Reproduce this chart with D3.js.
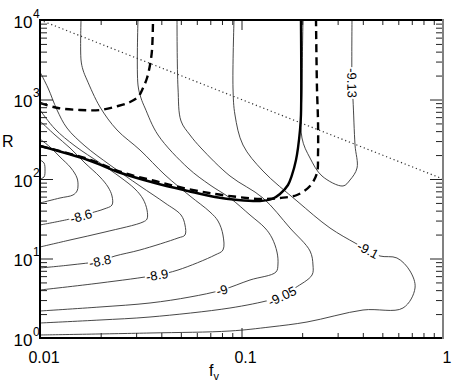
<!DOCTYPE html>
<html>
<head>
<meta charset="utf-8">
<script src="https://cdn.jsdelivr.net/npm/d3@7"></script>
<style>
	body { margin: 0; background: #fff; }
	svg { display: block; font-family: "Liberation Sans", Arial, sans-serif; }
</style>
</head>
<body>
<svg id="chart" width="459" height="382"></svg>
<script>
	/* contour lines, each point is [f_v, R] */
	var xTickLabels = [0.01, 0.1, 1];
	var yTickExponents = [0, 1, 2, 3, 4];

	var c_840 = [[0.01,173.4],[0.01047,159.0],[0.01059,129.8],[0.01047,106.0],[0.01,100]];
	var c_850 = [[0.01,318.6],[0.01121,252.7],[0.01257,189.1],[0.01425,137.5],[0.01527,102.9],[0.01544,81.66],[0.01527,70.65],[0.01458,62.92],[0.01257,57.68],[0.01,49.9]];
	var c_860 = [[0.01,536.5],[0.01187,357.7],[0.01409,245.5],[0.01672,159.0],[0.01985,106.0],[0.02176,79.33],[0.02277,61.13],[0.02277,47.1],[0.02078,41.95],[0.01791,37.36],[0.01598,34.25],[0.01409,31.40],[0.01,26.39]];
	var c_870 = [[0.01,737.9],[0.01187,425.6],[0.01492,260.1],[0.01985,159.0],[0.02495,106.0],[0.02961,74.86],[0.03245,56.03],[0.03397,40.75],[0.03397,31.40],[0.03245,28.78],[0.02102,21.54],[0.01409,17.09],[0.01,13.96]];
	var c_880 = [[0.01,2218],[0.01096,1395],[0.01215,737.9],[0.01361,438.0],[0.01672,260.1],[0.02225,150.0],[0.03135,81.66],[0.04174,49.9],[0.05009,35.26],[0.05243,26.39],[0.05243,19.75],[0.04841,18.11],[0.03135,12.80],[0.02357,10.75],[0.01985,9.302],[0.01409,8.284],[0.01,7.595]];
	var c_890 = [[0.01598,10000],[0.01598,3140],[0.01635,2350],[0.01711,1760],[0.01985,804.8],[0.02411,413.4],[0.03135,231.6],[0.04174,112.3],[0.05551,61.13],[0.06978,38.46],[0.07645,29.63],[0.08092,19.75],[0.08092,12.80],[0.07387,11.07],[0.04841,7.165],[0.03808,6.201],[0.01985,4.918],[0.01,4.017]];
	var c_900 = [[0.03064,10000],[0.03064,1522],[0.03171,1044],[0.0332,781.9],[0.03852,357.7],[0.05425,137.5],[0.06978,84.06],[0.08768,57.68],[0.1102,35.26],[0.1308,24.19],[0.1417,18.11],[0.15,12.07],[0.1517,8.527],[0.1483,6.763],[0.1102,5.366],[0.08,4.017],[0.05551,3.279],[0.03515,2.756],[0.01985,2.455],[0.01,2.186]];
	var c_905 = [[0.04786,10000],[0.04841,1395],[0.05009,536.5],[0.05551,357.7],[0.06295,245.5],[0.08768,109.1],[0.1278,57.68],[0.174,24.19],[0.2188,12.43],[0.2263,8.284],[0.2239,6.201],[0.1843,4.256],[0.1589,3.375],[0.1385,3.006],[0.08768,2.384],[0.03515,1.837],[0.01985,1.684],[0.01,1.544]];
	var c_910 = [[0.09179,10000],[0.09074,1395],[0.09283,638.3],[0.1017,267.7],[0.1278,126.1],[0.1885,52.88],[0.2749,24.19],[0.3659,15.67],[0.4245,12.80],[0.4868,10.75],[0.5909,10.15],[0.686,6.961],[0.7264,4.256],[0.6331,2.384],[0.4009,2.25],[0.2114,1.589],[0.1385,1.375],[0.08768,1.225],[0.03515,1.156],[0.01,1.091]];
	var c_913 = [[0.2019,10000],[0.1996,1395],[0.1996,327.9],[0.2188,183.7],[0.2509,109.1],[0.319,81.66],[0.3455,97.1],[0.3744,137.5],[0.3659,267.7],[0.3576,985.6],[0.3535,1613],[0.3535,10000]];

	var contourLevels = [-8.4, -8.5, -8.6, -8.7, -8.8, -8.9, -9, -9.05, -9.1, -9.13];
	var contourPaths = [c_840, c_850, c_860, c_870, c_880, c_890, c_900, c_905, c_910, c_913];

	// which contours carry a label, and where on the line it sits
	var labelLevels = [-8.6, -8.8, -8.9, -9, -9.05, -9.1, -9.13];
	var labelPoints = [[0.01598,34.25],[0.01985,9.302],[0.03808,6.201],[0.08,4.017],[0.1589,3.375],[0.4245,12.80],[0.3535,1613]];

	var boundSolid = [[0.01,260.1],[0.0173,173.4],[0.02523,119.0],[0.03722,89.1],[0.05425,70.65],[0.07387,59.38],[0.0961,54.43],[0.1235,52.88],[0.1417,56.03],[0.1552,64.77],[0.1701,84.06],[0.1781,112.3],[0.1864,173.4],[0.1907,245.5],[0.1951,413.4],[0.1973,638.3],[0.1973,10000]];
	var boundDashed = [[0.01,260.1],[0.0173,178.5],[0.02523,122.5],[0.03722,94.4],[0.05425,74.86],[0.07387,64.77],[0.0961,59.38],[0.1235,56.03],[0.1552,57.68],[0.1885,62.92],[0.2188,81.66],[0.2369,119.0],[0.2397,200.4],[0.2397,536.5],[0.2369,1395],[0.2343,10000]];
	var boundDashedUpper = [[0.01,903.6],[0.01228,781.9],[0.0158,737.9],[0.01985,737.9],[0.02439,828.4],[0.02797,930.2],[0.03064,1075],[0.03245,1395],[0.03397,1864],[0.03515,2716],[0.03597,4195],[0.03638,10000]];
	var dottedLine = [[0.01,10000],[1,100]];

	(function(){
	var svg = d3.select("#chart"),
		pLeft = 40, pRight = 443, pTop = 20, pBottom = 338;

	var x = d3.scaleLog().domain([0.01, 1]).range([pLeft, pRight]);
	var y = d3.scaleLog().domain([1, 10000]).range([pBottom, pTop]);

	function isDecade(d){
		var l = Math.log10(d);
		return Math.abs(l - Math.round(l)) < 1e-6;
	}

	svg.append("clipPath")
		.attr("id", "plot_clip")
		.append("rect")
			.attr("x", pLeft).attr("y", pTop)
			.attr("width", pRight-pLeft).attr("height", pBottom-pTop);

	var plot = svg.append("g").attr("clip-path", "url(#plot_clip)");

	var line = d3.line()
		.x(function(d){ return x(d[0]); })
		.y(function(d){ return y(d[1]); })
		.curve(d3.curveCatmullRom.alpha(0.5));

	plot.selectAll(".contour")
		.data(contourPaths)
		.enter()
		.append("path")
		.attr("class", "contour")
		.attr("d", line)
		.attr("fill", "none")
		.attr("stroke", "#333")
		.attr("stroke-width", 0.9);

	plot.append("path")
		.datum(dottedLine)
		.attr("d", d3.line().x(function(d){ return x(d[0]); }).y(function(d){ return y(d[1]); }))
		.attr("fill", "none")
		.attr("stroke", "#333")
		.attr("stroke-width", 1.2)
		.attr("stroke-dasharray", "1.2,2.8");

	[boundDashed, boundDashedUpper].forEach(function(pts){
		plot.append("path")
			.datum(pts)
			.attr("d", line)
			.attr("fill", "none")
			.attr("stroke", "#000")
			.attr("stroke-width", 2.4)
			.attr("stroke-dasharray", "8,5");
	});

	plot.append("path")
		.datum(boundSolid)
		.attr("d", line)
		.attr("fill", "none")
		.attr("stroke", "#000")
		.attr("stroke-width", 2.4);

	// contour labels, turned along the line, with a white patch cut into it
	labelLevels.forEach(function(lev, i){
		var pts = contourPaths[contourLevels.indexOf(lev)].map(function(d){ return [x(d[0]), y(d[1])]; }),
			lx = x(labelPoints[i][0]),
			ly = y(labelPoints[i][1]);
		var k = d3.minIndex(pts, function(p){ return (p[0]-lx)*(p[0]-lx)+(p[1]-ly)*(p[1]-ly); });
		var a = pts[Math.max(k-1,0)], b = pts[Math.min(k+1,pts.length-1)];
		var ang = Math.atan2(b[1]-a[1], b[0]-a[0])*180/Math.PI;
		if (ang <= -90) ang += 180;
		if (ang > 90) ang -= 180;
		var g = plot.append("g").attr("transform", "translate("+lx+","+ly+") rotate("+ang+")");
		var t = g.append("text")
			.attr("text-anchor", "middle")
			.attr("dy", "0.36em")
			.attr("font-size", 13)
			.attr("fill", "#000")
			.text(String(lev));
		var bb = t.node().getBBox();
		g.insert("rect", "text")
			.attr("x", bb.x-1).attr("y", bb.y+1)
			.attr("width", bb.width+2).attr("height", bb.height-2)
			.attr("fill", "#fff");
	});

	// inward ticks on all four sides
	var xt = x.ticks(), yt = y.ticks();
	var xMinor = xt.filter(function(d){ return !isDecade(d); }),
		xMajor = xt.filter(isDecade),
		yMinor = yt.filter(function(d){ return !isDecade(d); }),
		yMajor = yt.filter(isDecade);

	function tickAxis(axis, vals, size, tr){
		var g = svg.append("g")
			.attr("transform", tr)
			.call(axis.tickValues(vals).tickSize(-size).tickFormat(""));
		g.select(".domain").remove();
		g.selectAll("line").attr("stroke", "#222");
	}
	tickAxis(d3.axisBottom(x), xMinor, 5, "translate(0,"+pBottom+")");
	tickAxis(d3.axisBottom(x), xMajor, 10, "translate(0,"+pBottom+")");
	tickAxis(d3.axisTop(x), xMinor, 5, "translate(0,"+pTop+")");
	tickAxis(d3.axisTop(x), xMajor, 10, "translate(0,"+pTop+")");
	tickAxis(d3.axisLeft(y), yMinor, 7, "translate("+pLeft+",0)");
	tickAxis(d3.axisLeft(y), yMajor, 13, "translate("+pLeft+",0)");
	tickAxis(d3.axisRight(y), yMinor, 7, "translate("+pRight+",0)");
	tickAxis(d3.axisRight(y), yMajor, 13, "translate("+pRight+",0)");

	// frame
	svg.append("path")
		.attr("d", "M"+pRight+","+pTop+"H"+pLeft+"V"+pBottom+"H"+pRight)
		.attr("fill", "none")
		.attr("stroke", "#000")
		.attr("stroke-width", 2);
	svg.append("line")
		.attr("x1", pRight).attr("x2", pRight)
		.attr("y1", pTop-1).attr("y2", pBottom+1)
		.attr("stroke", "#808080")
		.attr("stroke-width", 2);

	// tick labels
	svg.selectAll(".xlab")
		.data(xTickLabels)
		.enter()
		.append("text")
		.attr("class", "xlab")
		.attr("x", function(d){ return x(d)+4; })
		.attr("y", 363)
		.attr("text-anchor", "middle")
		.attr("font-size", 16)
		.text(function(d){ return d; });

	var ylab = svg.selectAll(".ylab")
		.data(yTickExponents)
		.enter()
		.append("g")
		.attr("class", "ylab")
		.attr("transform", function(d){ return "translate(0,"+y(Math.pow(10,d))+")"; });
	ylab.append("text")
		.attr("x", 32.5)
		.attr("y", 7.5)
		.attr("text-anchor", "end")
		.attr("font-size", 17)
		.text("10");
	ylab.append("text")
		.attr("x", 33)
		.attr("y", -2.5)
		.attr("font-size", 12)
		.text(function(d){ return d; });

	// axis titles
	svg.append("text")
		.attr("x", 2)
		.attr("y", 147)
		.attr("font-size", 16)
		.text("R");
	var ft = svg.append("text")
		.attr("x", 209)
		.attr("y", 376)
		.attr("font-size", 16)
		.text("f");
	ft.append("tspan")
		.attr("dy", 4)
		.attr("font-size", 11)
		.text("v");
	})();
</script>
</body>
</html>
